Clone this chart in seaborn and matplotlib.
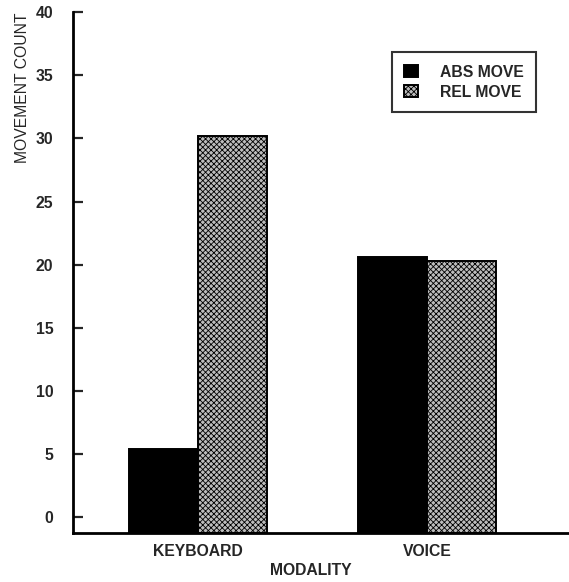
import pandas as pd
import matplotlib
matplotlib.use("Agg")
import matplotlib.pyplot as plt
import seaborn as sns

# values
modalities = ["KEYBOARD", "VOICE"]
move_types = ["ABS MOVE", "REL MOVE"]
abs_move = [5.4, 20.6]
rel_move = [30.2, 20.3]
y_ticks = [0, 5, 10, 15, 20, 25, 30, 35, 40]

df = pd.DataFrame({
    "modality": modalities * 2,
    "move": [move_types[0]] * 2 + [move_types[1]] * 2,
    "count": abs_move + rel_move,
})

sns.set_theme(style="white")
plt.rcParams["font.family"] = ["Liberation Sans", "DejaVu Sans"]
plt.rcParams["hatch.linewidth"] = 0.6
plt.rcParams["hatch.color"] = "black"

fig = plt.figure(figsize=(5.69, 5.82), dpi=100)
ax = fig.add_axes([0.128, 0.084, 0.872, 0.895])

sns.barplot(data=df, x="modality", y="count", hue="move", order=modalities,
            hue_order=move_types, palette=["black", "#bdbdbd"], width=0.6,
            edgecolor="black", linewidth=1.4, legend=False, ax=ax)

y_bottom = -1.27
# the bars in the original sit on the x axis line, which is a bit below 0
for bar in ax.patches:
    h = bar.get_height()
    bar.set_y(y_bottom)
    bar.set_height(h - y_bottom)
for bar in ax.containers[1]:
    bar.set_hatch("xxxxxx")

ax.set_ylim(y_bottom, 40)
ax.set_xlim(-0.546, 1.62)
ax.set_yticks(y_ticks)
ax.set_yticklabels([str(t) for t in y_ticks])

for s in ["top", "right"]:
    ax.spines[s].set_visible(False)
for s in ["left", "bottom"]:
    ax.spines[s].set_linewidth(2)
    ax.spines[s].set_color("black")

ax.tick_params(axis="y", direction="in", length=7, width=1.6, pad=14,
               labelsize=11.3, left=True)
ax.tick_params(axis="x", length=0, pad=8, labelsize=11.3)
for lab in ax.get_yticklabels() + ax.get_xticklabels():
    lab.set_fontweight("semibold")

ax.set_ylabel("MOVEMENT COUNT", fontsize=11.3, loc="top", labelpad=4)
ax.set_xlabel("MODALITY", fontsize=11.3, fontweight="bold", labelpad=3, x=0.48)

leg = ax.legend(ax.containers, move_types, loc="upper left",
                bbox_to_anchor=(0.643, 0.923), frameon=True, fancybox=False,
                edgecolor="black", fontsize=11.3, handlelength=0.85,
                handleheight=0.8, handletextpad=1.4, borderpad=0.8,
                labelspacing=0.3, borderaxespad=0)
leg.get_frame().set_linewidth(1.5)
leg.get_frame().set_boxstyle("square", pad=0)
for t in leg.get_texts():
    t.set_fontweight("semibold")

fig.savefig("out.png", dpi=100)
